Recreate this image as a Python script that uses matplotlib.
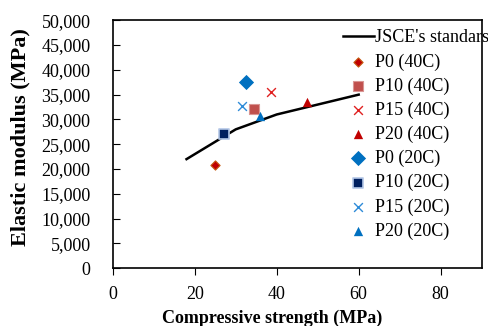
import matplotlib
matplotlib.use('Agg')
import matplotlib.pyplot as plt
from matplotlib.ticker import FuncFormatter

plt.rcParams['font.family'] = ['Liberation Serif', 'DejaVu Serif']

# JSCE standard curve
jsce_fc = [18, 24, 30, 40, 50, 60]
jsce_e = [22000, 25000, 28000, 31000, 33000, 35000]

# measured points
labels = ['P0 (40C)', 'P10 (40C)', 'P15 (40C)', 'P20 (40C)',
          'P0 (20C)', 'P10 (20C)', 'P15 (20C)', 'P20 (20C)']
fc = [25.0, 34.4, 38.7, 47.3, 32.6, 27.1, 31.5, 35.9]
emod = [20800, 32100, 35500, 33600, 37450, 27100, 32750, 30700]

styles = [
    dict(marker='D', s=22, c='#C00000', edgecolors='#C55A11', linewidths=0.8),
    dict(marker='s', s=60, c='#C0504D', edgecolors='#D99694', linewidths=0.8),
    dict(marker='x', s=40, c='#E02020', linewidths=1.0),
    dict(marker='^', s=45, c='#C00000', linewidths=0),
    dict(marker='D', s=60, c='#0070C0', linewidths=0),
    dict(marker='s', s=45, c='#002060', edgecolors='#B4C7E7', linewidths=1.2),
    dict(marker='x', s=40, c='#2E8BD8', linewidths=1.0),
    dict(marker='^', s=45, c='#0070C0', linewidths=0),
]

fig = plt.figure(figsize=(4.88, 3.26), dpi=100)
ax = fig.add_axes([0.231, 0.177, 0.756, 0.761])

ax.plot(jsce_fc, jsce_e, color='black', lw=1.8, label="JSCE's standars")
for x, y, lab, st in zip(fc, emod, labels, styles):
    ax.scatter([x], [y], label=lab, zorder=3, **st)

ax.set_xlim(0, 90)
ax.set_ylim(0, 50000)
ax.set_xticks([0, 20, 40, 60, 80])
ax.set_yticks(range(0, 50001, 5000))
ax.yaxis.set_major_formatter(FuncFormatter(lambda v, p: f'{int(v):,}'))
ax.tick_params(axis='y', direction='in', length=5, labelsize=13)
ax.tick_params(axis='y', pad=16)
ax.tick_params(axis='x', direction='out', length=5, labelsize=13, pad=8)
for sp in ax.spines.values():
    sp.set_linewidth(1.2)

ax.set_xlabel('Compressive strength (MPa)', fontsize=13, fontweight='bold')
ax.xaxis.set_label_coords(0.432, -0.165)
ax.set_ylabel('Elastic modulus (MPa)', fontsize=16, fontweight='bold')
ax.yaxis.set_label_coords(-0.224, 0.531)

leg = ax.legend(loc='upper left', bbox_to_anchor=(0.624, 0.963), frameon=False,
                fontsize=13, handlelength=1.7, handletextpad=0.1,
                labelspacing=0.38, borderaxespad=0, borderpad=0)
for t in leg.get_texts():
    t.set_clip_on(False)

fig.savefig('out.png', dpi=100)
